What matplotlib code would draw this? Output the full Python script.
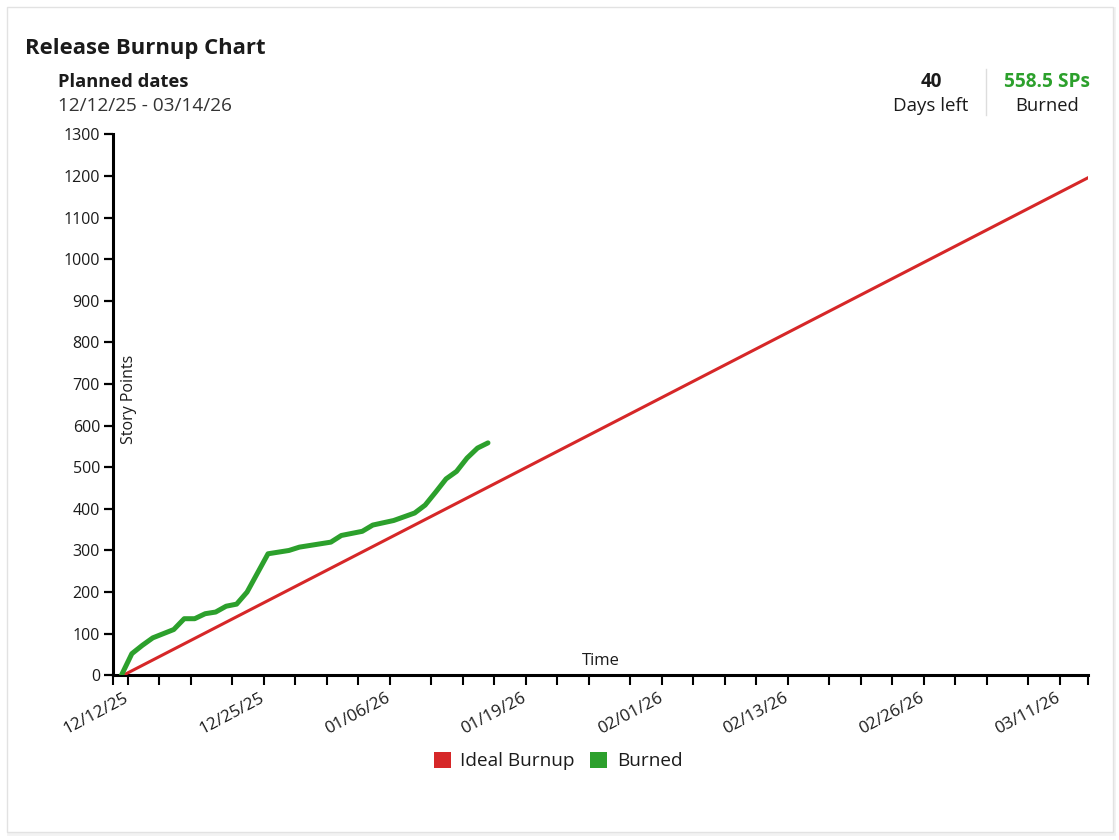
import matplotlib
matplotlib.use('Agg')
import matplotlib.pyplot as plt
import matplotlib.dates as mdates
import matplotlib.transforms as mtransforms
from matplotlib.patches import Rectangle, Patch
from matplotlib.lines import Line2D
from matplotlib.ticker import FixedLocator, FixedFormatter
import pandas as pd

plt.rcParams['font.family'] = ['Open Sans', 'DejaVu Sans']

# ---------------- data ----------------
title = "Release Burnup Chart"
planned_label = "Planned dates"
planned_range = "12/12/25 - 03/14/26"
days_left_value = "40"
days_left_label = "Days left"
burned_total = "558.5 SPs"
burned_label = "Burned"

ideal_dates = ["2025-12-11 04:00", "2026-03-13 15:00"]
ideal_values = [0, 1200]

burned_dates = ["2025-12-11", "2025-12-12", "2025-12-13", "2025-12-14", "2025-12-16",
                "2025-12-17", "2025-12-18", "2025-12-19", "2025-12-20", "2025-12-21",
                "2025-12-22", "2025-12-23", "2025-12-25", "2025-12-27", "2025-12-28",
                "2025-12-31", "2026-01-01", "2026-01-03", "2026-01-04", "2026-01-06",
                "2026-01-08", "2026-01-09", "2026-01-10", "2026-01-11", "2026-01-12",
                "2026-01-13", "2026-01-14", "2026-01-15"]
burned_values = [0, 52, 72, 90, 110,
                 136, 136, 148, 152, 166,
                 171, 200, 292, 300, 308,
                 320, 336, 346, 361, 372,
                 390, 409, 440, 472, 490,
                 522, 546, 558.5]

labeled_tick_dates = ["2025-12-12", "2025-12-25", "2026-01-06", "2026-01-19",
                      "2026-02-01", "2026-02-13", "2026-02-26", "2026-03-11"]
other_tick_dates = ["2025-12-15", "2025-12-18", "2025-12-22", "2025-12-28", "2025-12-31",
                    "2026-01-03", "2026-01-10", "2026-01-13", "2026-01-16", "2026-01-22",
                    "2026-01-25", "2026-01-29", "2026-02-04", "2026-02-07", "2026-02-10",
                    "2026-02-17", "2026-02-20", "2026-02-23", "2026-03-01", "2026-03-04",
                    "2026-03-08"]
y_ticks = list(range(0, 1301, 100))

series_names = ["Ideal Burnup", "Burned"]

# ---------------- style ----------------
RED = "#d62728"
GREEN = "#2ca02c"
TXT = "#1b1b1b"
W, H = 1119, 840
TICK_SHIFT = pd.Timedelta(hours=9.6)
X_START = pd.Timestamp("2025-12-10 05:30")
X_END = pd.Timestamp("2026-03-13 07:30")


def fx(px):
    return px / W


def fy(py):
    return 1 - py / H


fig = plt.figure(figsize=(W / 100, H / 100), dpi=100)
fig.patch.set_facecolor("white")

# card
fig.patches.append(Rectangle((fx(8), fy(834)), fx(1106), 826 / H, transform=fig.transFigure,
                             facecolor="none", edgecolor="#f2f2f2", lw=2.0, zorder=-20))
fig.patches.append(Rectangle((fx(7), fy(832)), fx(1106), 825 / H, transform=fig.transFigure,
                             facecolor="white", edgecolor="#e2e2e2", lw=1.0, zorder=-10))

ax = fig.add_axes([fx(113.3), fy(675.3), fx(1088.3 - 113.3), (675.3 - 134.3) / H])
ax.set_facecolor("none")
ax.set_zorder(5)

ax.plot(pd.to_datetime(ideal_dates), ideal_values, color=RED, lw=2.2, zorder=3,
        solid_capstyle="round")
ax.plot(pd.to_datetime(burned_dates), burned_values, color=GREEN, lw=3.6, zorder=4,
        solid_capstyle="round", solid_joinstyle="round")

ax.set_xlim(X_START, X_END)
ax.set_ylim(0, 1300)

# x ticks
lab = pd.to_datetime(labeled_tick_dates) - TICK_SHIFT
oth = pd.to_datetime(other_tick_dates) - TICK_SHIFT
tick_pos = [mdates.date2num(t) for t in lab] + [mdates.date2num(t) for t in oth] + \
           [mdates.date2num(X_START), mdates.date2num(X_END)]
tick_lab = [pd.Timestamp(d).strftime("%m/%d/%y") for d in labeled_tick_dates] + \
           [""] * len(oth) + ["", ""]
order = sorted(range(len(tick_pos)), key=lambda i: tick_pos[i])
ax.xaxis.set_major_locator(FixedLocator([tick_pos[i] for i in order]))
ax.xaxis.set_major_formatter(FixedFormatter([tick_lab[i] for i in order]))

ax.set_yticks(y_ticks)
ax.set_yticklabels([str(v) for v in y_ticks])

for s in ["top", "right"]:
    ax.spines[s].set_visible(False)
for s in ["left", "bottom"]:
    ax.spines[s].set_linewidth(2.2)
    ax.spines[s].set_color("black")

ax.tick_params(axis="x", length=7, width=1.5, color="black", pad=3,
               labelsize=12.3, labelcolor=TXT)
ax.tick_params(axis="y", length=6.5, width=1.6, color="black", pad=3,
               labelsize=11.5, labelcolor=TXT)
shift = mtransforms.ScaledTranslation(-4 / 100, -1 / 100, fig.dpi_scale_trans)
for t in ax.get_xticklabels():
    t.set_rotation(28)
    t.set_ha("right")
    t.set_va("top")
    t.set_rotation_mode("anchor")
    t.set_transform(t.get_transform() + shift)

ax.text(0.0165, 0.51, "Story Points", transform=ax.transAxes, rotation=90,
        ha="center", va="center", fontsize=11.5, color=TXT)
ax.text(fx(601), fy(661), "Time", transform=fig.transFigure, ha="center", va="center",
        fontsize=12, color=TXT)

# header
fig.text(fx(25), fy(54), title, fontsize=15.9, fontweight="bold", color=TXT, va="baseline")
fig.text(fx(58), fy(87), planned_label, fontsize=13.2, fontweight="bold", color=TXT, va="baseline")
fig.text(fx(58), fy(111), planned_range, fontsize=13.7, color="#333333", va="baseline")
fig.text(fx(931), fy(87), days_left_value, fontsize=13.5, fontweight="bold", color=TXT,
         ha="center", va="baseline")
fig.text(fx(931), fy(111), days_left_label, fontsize=13.5, color=TXT, ha="center", va="baseline")
fig.text(fx(1047), fy(87), burned_total, fontsize=13.8, fontweight="bold", color=GREEN,
         ha="center", va="baseline")
fig.text(fx(1047), fy(111), burned_label, fontsize=13.2, color=TXT, ha="center", va="baseline")
fig.lines.append(Line2D([fx(985.5), fx(985.5)], [fy(69), fy(115)], transform=fig.transFigure,
                        color="#dddddd", lw=1.0))

# legend
handles = [Patch(facecolor=RED, edgecolor="none"), Patch(facecolor=GREEN, edgecolor="none")]
fig.legend(handles, series_names, loc="center", bbox_to_anchor=(fx(558), fy(761)),
           ncol=2, frameon=False, fontsize=13.7, handlelength=0.9, handleheight=0.9,
           handletextpad=0.5, columnspacing=0.8, labelcolor=TXT)

fig.savefig("out.png", dpi=100, facecolor="white")
